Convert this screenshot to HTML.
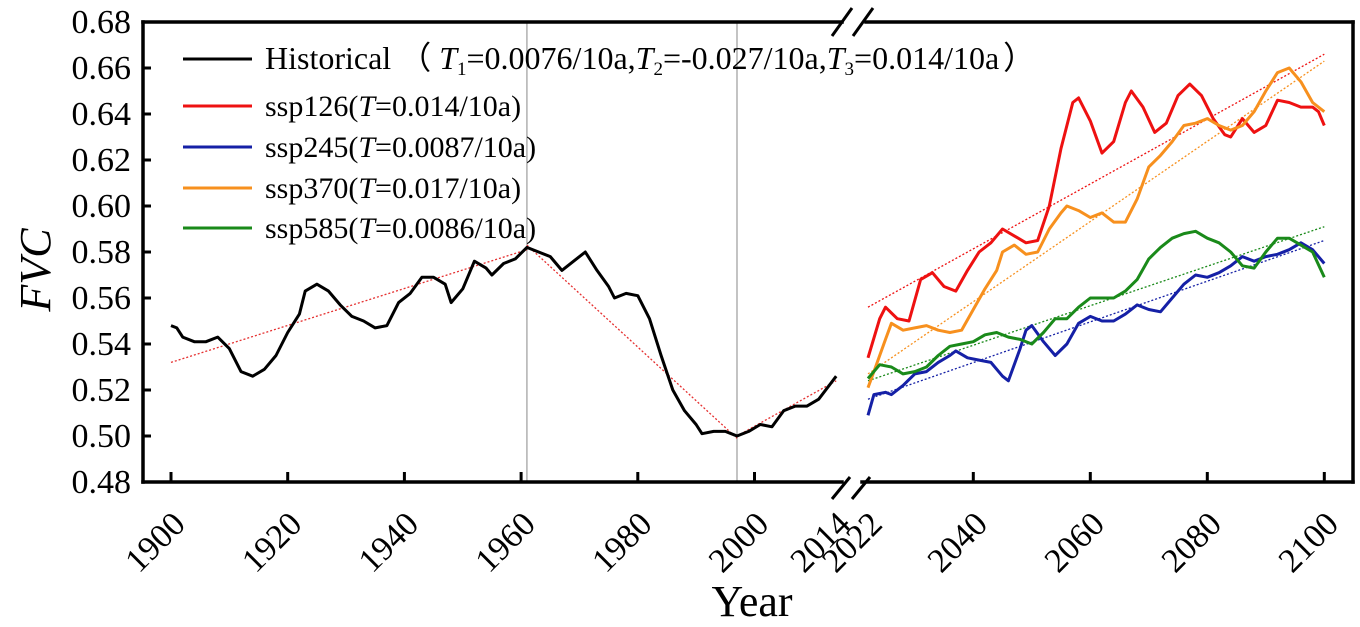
<!DOCTYPE html>
<html><head><meta charset="utf-8"><style>
body{margin:0;background:#fff}
svg{display:block}
text{font-family:"Liberation Serif","Times New Roman",serif}
</style></head><body>
<svg id="chart" width="1360" height="627" viewBox="0 0 1360 627">
<g id="grid"></g><g id="series"></g><g id="axes"></g><g id="legend"></g>
</svg>
<script>
const histYears=[1900,1901,1902,1904,1906,1908,1910,1912,1914,1916,1918,1920,1922,1923,1925,1927,1929,1931,1933,1935,1937,1939,1941,1943,1945,1947,1948,1950,1952,1954,1955,1957,1959,1961,1963,1965,1967,1969,1971,1973,1975,1976,1978,1980,1982,1984,1986,1988,1990,1991,1993,1995,1996,1997,1999,2001,2003,2005,2007,2009,2011,2014];
const histVals=[0.548,0.547,0.543,0.541,0.541,0.543,0.538,0.528,0.526,0.529,0.535,0.545,0.553,0.563,0.566,0.563,0.557,0.552,0.550,0.547,0.548,0.558,0.562,0.569,0.569,0.566,0.558,0.564,0.576,0.573,0.570,0.575,0.577,0.582,0.580,0.578,0.572,0.576,0.580,0.572,0.565,0.560,0.562,0.561,0.551,0.535,0.520,0.511,0.505,0.501,0.502,0.502,0.501,0.500,0.502,0.505,0.504,0.511,0.513,0.513,0.516,0.526];
const histTrendYears=[[1900,1961],[1961,1997],[1997,2014]];
const histTrendVals=[[0.532,0.581],[0.583,0.499],[0.500,0.524]];
const ssp126Years=[2022,2024,2025,2027,2029,2031,2033,2035,2037,2039,2041,2043,2045,2047,2049,2051,2053,2055,2057,2058,2060,2062,2064,2066,2067,2069,2071,2073,2075,2077,2079,2081,2083,2084,2086,2088,2090,2092,2094,2096,2098,2099,2100];
const ssp126Vals=[0.534,0.551,0.556,0.551,0.550,0.568,0.571,0.565,0.563,0.572,0.580,0.584,0.590,0.587,0.584,0.585,0.600,0.625,0.645,0.647,0.637,0.623,0.628,0.645,0.650,0.643,0.632,0.636,0.648,0.653,0.648,0.638,0.631,0.630,0.638,0.632,0.635,0.646,0.645,0.643,0.643,0.641,0.635];
const ssp370Years=[2022,2023,2025,2026,2028,2030,2032,2034,2036,2038,2040,2042,2044,2045,2047,2049,2051,2053,2055,2056,2058,2060,2062,2064,2066,2068,2070,2072,2074,2076,2078,2080,2082,2084,2086,2088,2090,2092,2094,2096,2098,2100];
const ssp370Vals=[0.521,0.528,0.542,0.549,0.546,0.547,0.548,0.546,0.545,0.546,0.555,0.564,0.572,0.580,0.583,0.579,0.580,0.590,0.597,0.600,0.598,0.595,0.597,0.593,0.593,0.603,0.617,0.622,0.628,0.635,0.636,0.638,0.635,0.633,0.635,0.641,0.650,0.658,0.660,0.654,0.645,0.641];
const ssp245Years=[2022,2023,2025,2026,2028,2030,2032,2034,2036,2037,2039,2041,2043,2045,2046,2048,2049,2050,2052,2054,2056,2058,2060,2062,2064,2066,2068,2070,2072,2074,2076,2078,2080,2082,2084,2086,2088,2090,2092,2094,2096,2098,2100];
const ssp245Vals=[0.509,0.518,0.519,0.518,0.522,0.527,0.528,0.532,0.535,0.537,0.534,0.533,0.532,0.526,0.524,0.538,0.546,0.548,0.541,0.535,0.540,0.549,0.552,0.550,0.550,0.553,0.557,0.555,0.554,0.560,0.566,0.570,0.569,0.571,0.574,0.578,0.576,0.578,0.579,0.581,0.584,0.581,0.575];
const ssp585Years=[2022,2024,2026,2028,2030,2032,2034,2036,2038,2040,2042,2044,2046,2048,2050,2052,2054,2056,2058,2060,2062,2064,2066,2068,2070,2072,2074,2076,2078,2080,2082,2084,2086,2088,2090,2092,2094,2096,2098,2100];
const ssp585Vals=[0.525,0.531,0.530,0.527,0.528,0.530,0.535,0.539,0.540,0.541,0.544,0.545,0.543,0.542,0.540,0.545,0.551,0.551,0.556,0.560,0.560,0.560,0.563,0.568,0.577,0.582,0.586,0.588,0.589,0.586,0.584,0.580,0.574,0.573,0.580,0.586,0.586,0.583,0.580,0.569];
const futTrendYears=[2022,2100];
const ssp126Trend=[0.556,0.666];
const ssp245Trend=[0.516,0.585];
const ssp370Trend=[0.527,0.663];
const ssp585Trend=[0.524,0.591];
const yTicks=[0.48,0.50,0.52,0.54,0.56,0.58,0.60,0.62,0.64,0.66,0.68];
const xTicksLeft=[1900,1920,1940,1960,1980,2000];
const xTicksRight=[2040,2060,2080,2100];
const xLabels=[1900,1920,1940,1960,1980,2000,2014,2022,2040,2060,2080,2100];
const breakLines=[1961,1997];

const NS="http://www.w3.org/2000/svg";
const L=143,R=1353,T=22,B=482;
function y(v){return B-(v-0.48)/0.2*(B-T);}
function x(yr){return yr<=2018?171+(yr-1900)*5.835:868+(yr-2022)*5.85;}
function mk(tag,attrs,parent){const e=document.createElementNS(NS,tag);for(const k in attrs)e.setAttribute(k,attrs[k]);document.getElementById(parent).appendChild(e);return e;}
function pts(ys,vs){return ys.map((yr,i)=>x(yr).toFixed(1)+","+y(vs[i]).toFixed(1)).join(" ");}

breakLines.forEach(yr=>{const e=mk('line',{x1:x(yr),x2:x(yr),y1:T,y2:B,stroke:'#888','stroke-width':1},'grid');

});

histTrendYears.forEach((ys,i)=>{const e=mk('polyline',{points:pts(ys,histTrendVals[i]),fill:'none',stroke:'#e53030','stroke-width':1.3,'stroke-dasharray':'2,2'},'series');

});
const ser=[['ssp126',ssp126Years,ssp126Vals,ssp126Trend,'#ee1111'],['ssp370',ssp370Years,ssp370Vals,ssp370Trend,'#f7901e'],['ssp245',ssp245Years,ssp245Vals,ssp245Trend,'#1520a6'],['ssp585',ssp585Years,ssp585Vals,ssp585Trend,'#1a8a1a']];
ser.forEach(s=>{const e=mk('polyline',{points:pts(futTrendYears,s[3]),fill:'none',stroke:s[4],'stroke-width':1.3,'stroke-dasharray':'2,2'},'series');

});
ser.forEach(s=>{const e=mk('polyline',{points:pts(s[1],s[2]),fill:'none',stroke:s[4],'stroke-width':3,'stroke-linejoin':'round'},'series');

});
{const e=mk('polyline',{points:pts(histYears,histVals),fill:'none',stroke:'#000','stroke-width':3,'stroke-linejoin':'round'},'series');

}

const frame=[[L,T,L,B],[R,T,R,B],[L,B,842,B],[862,B,R,B],[L,T,842,T],[866,T,R,T]];
frame.forEach(f=>{const e=mk('line',{x1:f[0],y1:f[1],x2:f[2],y2:f[3],stroke:'#000','stroke-width':3.5,'stroke-linecap':'square'},'axes');

});
[[832,499,850,477],[852,499,870,477],[832,36,852,8],[853,36,873,8]].forEach(b=>{const e=mk('line',{x1:b[0],y1:b[1],x2:b[2],y2:b[3],stroke:'#000','stroke-width':3},'axes');

});
yTicks.forEach(v=>{const t=mk('line',{x1:L,x2:L+8,y1:y(v),y2:y(v),stroke:'#000','stroke-width':3},'axes');


const e=mk('text',{x:L-12,y:y(v)+11,'text-anchor':'end','font-size':34},'axes');e.textContent=v.toFixed(2);

});
xTicksLeft.concat(xTicksRight).forEach(yr=>{const t=mk('line',{x1:x(yr),x2:x(yr),y1:B,y2:B-10,stroke:'#000','stroke-width':3},'axes');

});
xLabels.forEach(yr=>{const px=x(yr)+16,py=B+44;const e=mk('text',{x:px,y:py,'text-anchor':'end','font-size':34,transform:`rotate(-45 ${px} ${py})`},'axes');e.textContent=yr;

});
{const e=mk('text',{x:752,y:616,'text-anchor':'middle','font-size':44},'axes');e.textContent='Year';

}
{const e=mk('text',{x:50,y:270,'text-anchor':'middle','font-size':44,'font-style':'italic',transform:'rotate(-90 50 270)'},'axes');e.textContent='FVC';

}

const leg=[['#000',59,'Historical<tspan dx="8">（</tspan><tspan dx="8" font-style="italic">T</tspan><tspan font-size="19" dy="6">1</tspan><tspan dy="-6">=0.0076/10a,</tspan><tspan font-style="italic">T</tspan><tspan font-size="19" dy="6">2</tspan><tspan dy="-6">=-0.027/10a,</tspan><tspan font-style="italic">T</tspan><tspan font-size="19" dy="6">3</tspan><tspan dy="-6">=0.014/10a</tspan><tspan dx="4">）</tspan>','legend-historical',32],
['#ee1111',106,'ssp126(<tspan font-style="italic">T</tspan>=0.014/10a)','legend-ssp126',30],
['#1520a6',147,'ssp245(<tspan font-style="italic">T</tspan>=0.0087/10a)','legend-ssp245',30],
['#f7901e',188,'ssp370(<tspan font-style="italic">T</tspan>=0.017/10a)','legend-ssp370',30],
['#1a8a1a',228,'ssp585(<tspan font-style="italic">T</tspan>=0.0086/10a)','legend-ssp585',30]];
leg.forEach(l=>{const ln=mk('line',{x1:183,x2:252,y1:l[1],y2:l[1],stroke:l[0],'stroke-width':3},'legend');


const t=mk('text',{x:265,y:l[1]+10,'font-size':l[4]},'legend');t.innerHTML=l[2];

});
</script>
</body></html>
